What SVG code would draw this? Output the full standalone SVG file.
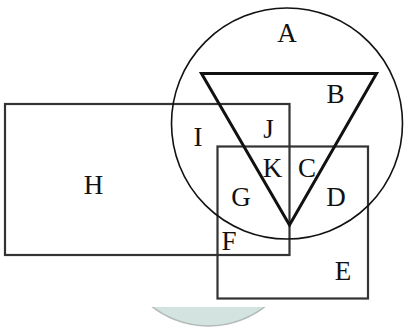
<svg xmlns="http://www.w3.org/2000/svg" width="404" height="329" viewBox="0 0 404 329">
<style>
.r{fill:none;stroke:#333;stroke-width:2.2}
.c{fill:none;stroke:#111;stroke-width:1.6}
.t{fill:none;stroke:#111;stroke-width:3;stroke-linejoin:miter}
text{font-family:"Liberation Serif","Times New Roman",serif;font-size:27px;fill:#111;text-anchor:middle}
</style>
<defs><clipPath id="cp"><rect x="0" y="307" width="404" height="22"/></clipPath></defs>
<rect width="404" height="329" fill="#fff"/>
<circle cx="208.5" cy="234" r="92" fill="#d3e4e0" stroke="#b4bcbb" stroke-width="1.5" clip-path="url(#cp)"/>
<g id="H"><rect class="r" x="5" y="104" width="284.5" height="151"/><text x="93.5" y="194">H</text></g>
<g id="E"><rect class="r" x="217.5" y="146.5" width="150.5" height="152"/><text x="343" y="280">E</text></g>
<g id="A"><circle class="c" cx="287" cy="123.5" r="115.5"/><text x="287" y="41.5">A</text></g>
<g id="B"><polygon class="t" points="201.5,73.5 376.5,73.5 289.5,225"/><text x="335.5" y="102.5">B</text></g>
<g id="labels">
<text x="198" y="146">I</text>
<text x="268.5" y="138">J</text>
<text x="272.5" y="177">K</text>
<text x="307" y="177">C</text>
<text x="241" y="206">G</text>
<text x="336" y="206">D</text>
<text x="229" y="250">F</text>
</g>
<g id="connectors"></g>
</svg>
